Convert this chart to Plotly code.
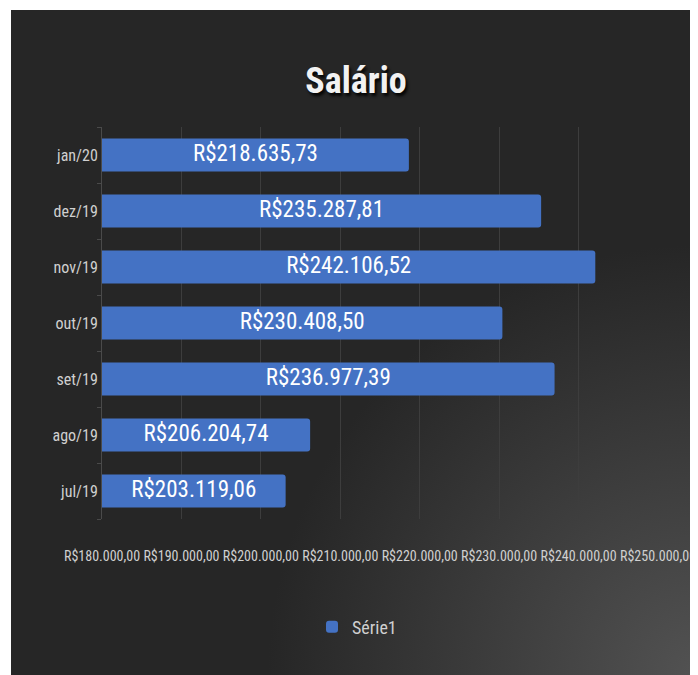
import plotly.graph_objects as go
import urllib.parse

# ---- data ----
categories = ["jul/19", "ago/19", "set/19", "out/19", "nov/19", "dez/19", "jan/20"]
values = [203119.06, 206204.74, 236977.39, 230408.50, 242106.52, 235287.81, 218635.73]
x_ticks = [180000, 190000, 200000, 210000, 220000, 230000, 240000, 250000]
series_name = "Série1"
title_text = "Salário"


def brl(v):
    s = f"{v:,.2f}"
    s = s.replace(",", "X").replace(".", ",").replace("X", ".")
    return "R$" + s


bar_text = [brl(v) for v in values]
tick_text = [brl(v) for v in x_ticks]
x_min, x_max = x_ticks[0], x_ticks[-1]
label_x = [(x_min + v) / 2 for v in values]  # centre of each visible bar

W, H = 690, 667
L, R, T, B = 94, 40, 119, 156
pw, ph = W - L - R, H - T - B

FONT = "Liberation Sans Narrow, Arial Narrow, Roboto Condensed, sans-serif"

# background: dark panel with soft light toward bottom-right
BW, BH = W - 3, H - 2
svg = (
    f'<svg xmlns="http://www.w3.org/2000/svg" width="{BW}" height="{BH}" viewBox="0 0 {BW} {BH}" preserveAspectRatio="none">'
    f'<defs><radialGradient id="g" gradientUnits="userSpaceOnUse" cx="{BW}" cy="{BH}" r="430">'
    '<stop offset="0" stop-color="#525252"/><stop offset="1" stop-color="#262626"/>'
    '</radialGradient></defs>'
    f'<rect x="0" y="0" width="{BW}" height="{BH}" fill="url(#g)"/></svg>'
)
src = "data:image/svg+xml;charset=utf-8," + urllib.parse.quote(svg)

fig = go.Figure()
fig.add_trace(go.Bar(
    y=categories, x=values, orientation="h", name=series_name,
    marker=dict(color="#4472C4", line=dict(width=0)),
    showlegend=True,
))
fig.add_trace(go.Scatter(
    y=categories, x=label_x, mode="text", text=bar_text,
    textposition="middle center",
    textfont=dict(family=FONT, size=23, color="#ffffff"),
    showlegend=False, hoverinfo="skip",
))

fig.update_layout(
    width=W, height=H,
    margin=dict(l=L, r=R, t=T, b=B, autoexpand=False),
    paper_bgcolor="#ffffff", plot_bgcolor="rgba(0,0,0,0)",
    bargap=0.41, barcornerradius=3,
    title=dict(text=title_text, x=348 / W, xanchor="center", y=1 - 72 / H, yanchor="middle",
               font=dict(family=FONT, size=36, color="#f2f2f2", weight="bold",
                         shadow="2px 3px 3px rgba(0,0,0,0.9)")),
    xaxis=dict(range=[x_min, x_max], tickvals=x_ticks, ticktext=tick_text,
               showgrid=True, gridcolor="#3d3d3d", gridwidth=1, zeroline=False,
               showline=False, ticks="", ticklabelstandoff=27,
               tickfont=dict(family=FONT, size=14, color="#d0d0d0")),
    yaxis=dict(categoryorder="array", categoryarray=categories,
               showgrid=False, zeroline=False, showline=True, linecolor="#4a4a4a", linewidth=1,
               ticks="outside", tickson="boundaries", ticklen=4, tickcolor="#4a4a4a",
               tickfont=dict(family=FONT, size=16, color="#d0d0d0")),
    legend=dict(orientation="h", x=(304 - L) / pw, xanchor="left", y=-(619 - T - ph) / ph, yanchor="middle",
                font=dict(family=FONT, size=18, color="#d0d0d0"), bgcolor="rgba(0,0,0,0)",
                itemwidth=30),
    images=[dict(source=src, xref="paper", yref="paper",
                 x=(3 - L) / pw, y=(T + ph - 2) / ph, sizex=BW / pw, sizey=BH / ph,
                 xanchor="left", yanchor="top", sizing="stretch", layer="below")],
)

fig.write_html("out.html")
